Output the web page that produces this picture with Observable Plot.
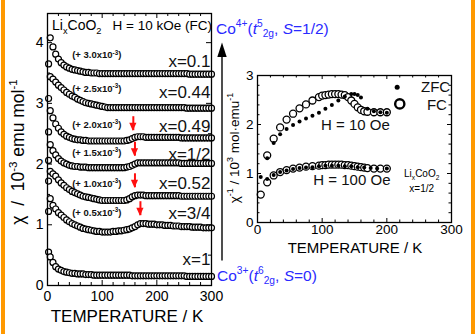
<!DOCTYPE html>
<html><head><meta charset="utf-8">
<script src="https://cdn.jsdelivr.net/npm/d3@7"></script>
<script src="https://cdn.jsdelivr.net/npm/@observablehq/plot@0.6"></script>
<style>
html,body{margin:0;padding:0;background:#fff;}
#wrap{position:relative;width:475px;height:334px;overflow:hidden;background:#fff;}
#wrap svg{position:absolute;left:0;top:0;}
.bar{position:absolute;top:0;height:334px;background:#ff9900;}
</style></head>
<body><div id="wrap"><div class="bar" style="left:1px;width:4px"></div><div class="bar" style="left:471px;width:4px"></div></div>
<script>
// ---------- DATA ----------
const temps = [2,5,10,15,20,25,30,35,40,45,50,55,60,65,70,75,80,85,90,95,100,105,110,115,120,125,130,135,140,145,150,155,160,165,170,175,180,185,190,195,200,205,210,215,220,225,230,235,240,245,250,255,260,265,270,275,280,285,290,295,300];
const xLabels = ["x=0.1","x=0.44","x=0.49","x=1/2","x=0.52","x=3/4","x=1"];
const offsets = [3.0,2.5,2.0,1.5,1.0,0.5,0];
const offsetText = ["3.0","2.5","2.0","1.5","1.0","0.5"];
const chi_x01 = [0.65,1.08,0.93,0.81,0.73,0.67,0.63,0.60,0.58,0.56, 0.55,0.54,0.53,0.52,0.51,0.51,0.50,0.50,0.50,0.49, 0.49,0.49,0.49,0.49,0.49,0.49,0.49,0.49,0.49,0.49, 0.49,0.49,0.49,0.49,0.49,0.49,0.49,0.49,0.49,0.49, 0.49,0.49,0.49,0.49,0.49,0.49,0.49,0.49,0.49,0.49, 0.49,0.49,0.48,0.48,0.48,0.48,0.48,0.48,0.48,0.48, 0.48];
const chi_x044 = [0.58,0.94,0.90,0.85,0.80,0.76,0.72,0.68,0.65,0.62, 0.60,0.57,0.55,0.53,0.51,0.50,0.49,0.48,0.47,0.46, 0.45,0.44,0.43,0.43,0.43,0.43,0.43,0.43,0.43,0.43, 0.43,0.43,0.43,0.43,0.43,0.43,0.43,0.43,0.43,0.43, 0.43,0.43,0.43,0.43,0.43,0.43,0.43,0.43,0.43,0.43, 0.43,0.42,0.42,0.42,0.42,0.42,0.42,0.42,0.42,0.42, 0.42];
const chi_x049 = [0.53,0.88,0.76,0.66,0.59,0.53,0.49,0.46,0.44,0.42, 0.41,0.40,0.40,0.39,0.39,0.38,0.38,0.38,0.38,0.38, 0.38,0.38,0.38,0.38,0.38,0.38,0.38,0.38,0.38,0.39, 0.40,0.42,0.44,0.45,0.45,0.45,0.44,0.44,0.44,0.44, 0.44,0.44,0.44,0.44,0.44,0.44,0.44,0.44,0.44,0.43, 0.43,0.43,0.43,0.43,0.43,0.43,0.43,0.43,0.43,0.43, 0.43];
const chi_x050 = [0.56,0.82,0.72,0.65,0.59,0.55,0.52,0.50,0.48,0.47, 0.46,0.46,0.45,0.45,0.45,0.44,0.44,0.44,0.44,0.44, 0.44,0.44,0.44,0.44,0.44,0.44,0.44,0.44,0.44,0.45, 0.46,0.48,0.50,0.52,0.52,0.52,0.52,0.52,0.52,0.52, 0.52,0.52,0.52,0.52,0.52,0.52,0.52,0.52,0.52,0.51, 0.51,0.51,0.51,0.51,0.51,0.51,0.51,0.51,0.51,0.51, 0.51];
const chi_x052 = [0.72,0.88,0.84,0.80,0.74,0.69,0.65,0.61,0.58,0.55, 0.53,0.51,0.49,0.47,0.46,0.45,0.44,0.43,0.42,0.41, 0.40,0.40,0.40,0.40,0.40,0.40,0.40,0.40,0.40,0.41, 0.43,0.46,0.48,0.49,0.49,0.49,0.48,0.48,0.48,0.48, 0.48,0.48,0.48,0.48,0.48,0.48,0.48,0.48,0.48,0.47, 0.47,0.47,0.47,0.47,0.47,0.47,0.47,0.47,0.47,0.47, 0.47];
const chi_x075 = [0.72,0.93,0.82,0.76,0.70,0.66,0.62,0.58,0.55,0.52, 0.50,0.48,0.46,0.44,0.43,0.42,0.41,0.40,0.39,0.39, 0.38,0.38,0.38,0.38,0.39,0.39,0.40,0.40,0.41,0.42, 0.43,0.45,0.47,0.50,0.52,0.52,0.52,0.51,0.51,0.51, 0.50,0.50,0.50,0.49,0.49,0.49,0.48,0.48,0.48,0.47, 0.47,0.47,0.47,0.46,0.46,0.46,0.46,0.45,0.45,0.45, 0.45];
const chi_x1 = [0.55,0.47,0.38,0.31,0.27,0.25,0.23,0.22,0.21,0.20, 0.20,0.19,0.19,0.19,0.18,0.18,0.18,0.17,0.17,0.17, 0.17,0.17,0.17,0.17,0.17,0.17,0.17,0.17,0.17,0.17, 0.17,0.16,0.16,0.16,0.16,0.16,0.16,0.16,0.16,0.16, 0.16,0.16,0.16,0.16,0.16,0.16,0.16,0.16,0.16,0.16, 0.16,0.15,0.15,0.15,0.15,0.15,0.15,0.15,0.15,0.15, 0.15];
const chiSeries = [chi_x01, chi_x044, chi_x049, chi_x050, chi_x052, chi_x075, chi_x1];
// transition arrows (red): temperature, curve index
const arrowT = [157, 160, 160, 170];
const arrowCurve = [2, 3, 4, 5];

// inset: x = 1/2, inverse susceptibility (10^3 mol emu^-1)
const fcT_H10  = [15,25,35,45,55,65,75,85,95,100,105,110,115,120,125,130,135,140,145,150,155,160,165,170,180,190,200];
const fc_H10   = [1.37,1.71,1.94,2.10,2.22,2.33,2.41,2.49,2.56,2.59,2.60,2.61,2.62,2.62,2.62,2.61,2.60,2.56,2.49,2.42,2.35,2.30,2.27,2.26,2.25,2.25,2.25];
const zfcT_H10 = [15,25,35,45,55,65,75,85,95,105,115,125,135,145,150,155,160,170,180,190,200];
const zfc_H10  = [1.31,1.62,1.80,1.91,1.99,2.06,2.12,2.18,2.24,2.32,2.40,2.49,2.57,2.62,2.62,2.60,2.55,2.32,2.27,2.25,2.24];
const fcT_H100 = [5,15,25,35,45,55,65,75,85,95,100,105,110,115,120,125,130,135,140,145,150,155,160,165,170,180,190,200];
const fc_H100  = [0.57,0.82,0.96,1.03,1.07,1.10,1.12,1.14,1.15,1.16,1.17,1.17,1.18,1.18,1.18,1.18,1.18,1.17,1.17,1.16,1.15,1.14,1.13,1.12,1.11,1.10,1.10,1.10];
const zfcT_H100= [5,15,25,35,45,55,65,75,85,95,105,115,125,135,145,155,165,175,185,200];
const zfc_H100 = [0.93,0.89,0.97,1.03,1.06,1.09,1.11,1.12,1.13,1.15,1.16,1.16,1.16,1.15,1.15,1.13,1.12,1.11,1.10,1.10];

// ---------- LAYOUT ----------
const FONT = "'Liberation Sans', Arial, Helvetica, sans-serif";
const W = 475, H = 334;
const mainM = {left:47, right:264, top:13, bottom:49};
const insM  = {left:257, right:24, top:75, bottom:112};
const labelY = [3.69, 3.17, 2.62, 2.15, 1.68, 1.18, 0.42];     // label rows (data units)
const offLabelY = [3.79, 3.24, 2.65, 2.19, 1.68, 1.19];

function boxTicks(xs, ys, m, len, sw) {
  const fw = W - m.left - m.right, fh = H - m.top - m.bottom;
  const o = {stroke: "black", strokeWidth: sw};
  return [
    Plot.ruleX(xs, {x: d => d, insetTop: fh - len, ...o}),
    Plot.ruleX(xs, {x: d => d, insetBottom: fh - len, ...o}),
    Plot.ruleY(ys, {y: d => d, insetRight: fw - len, ...o}),
    Plot.ruleY(ys, {y: d => d, insetLeft: fw - len, ...o})
  ];
}
function rich(svg, x, y, parts, o) {
  const size = o.size;
  const t = d3.select(svg).append("text")
    .attr("transform", `translate(${x},${y})` + (o.rotate ? ` rotate(${o.rotate})` : ""))
    .attr("font-size", size).attr("fill", o.fill || "black")
    .attr("text-anchor", o.anchor || "start")
    .attr("font-weight", o.weight || "normal")
    .attr("font-family", FONT);
  let cur = 0;
  for (const [s, k] of parts) {
    const ts = t.append("tspan").text(s);
    let target = 0;
    if (k === "sup") { target = -0.4 * size; ts.attr("font-size", 0.66 * size); }
    else if (k === "sub") { target = 0.25 * size; ts.attr("font-size", 0.66 * size); }
    else if (k === "i") ts.attr("font-style", "italic");
    if (target !== cur) { ts.attr("dy", target - cur); cur = target; }
  }
  return t;
}
const svgStyle = `font-family:${FONT};font-size:14px;background:transparent;overflow:visible;color:black;`;
const intFmt = d => String(d);

// ---------- MAIN CHART ----------
const rows = [];
chiSeries.forEach((arr, i) => arr.forEach((v, j) => rows.push({t: temps[j], v: v + offsets[i], k: i})));
const arrows = arrowT.map((t, i) => {
  const c = arrowCurve[i];
  const j = temps.indexOf(Math.round(t / 5) * 5);
  const base = chiSeries[c][j] + offsets[c];
  return {t, top: base + 0.36, tip: base + 0.13};
});
const labels = xLabels.map((label, i) => ({label, y: labelY[i]}));

const main = Plot.plot({
  width: W, height: H,
  marginLeft: mainM.left, marginRight: mainM.right, marginTop: mainM.top, marginBottom: mainM.bottom,
  style: svgStyle,
  x: {domain: [0, 300], ticks: [0, 100, 200, 300], tickFormat: intFmt, tickSize: 0, tickPadding: 6, label: null},
  y: {domain: [0, 4.48], ticks: [0, 1, 2, 3, 4], tickFormat: intFmt, tickSize: 0, tickPadding: 4, label: null},
  marks: [
    ...boxTicks([100, 200], [1, 2, 3, 4], mainM, 5, 1),
    ...boxTicks([20,40,60,80,120,140,160,180,220,240,260,280], [0.5,1.5,2.5,3.5], mainM, 3, 1),
    Plot.dot(rows, {x: "t", y: "v", r: 3, stroke: "black", strokeWidth: 1.2, fill: "white"}),
    Plot.ruleX(arrows, {x: "t", y1: "top", y2: "tip", stroke: "#ff1010", strokeWidth: 2}),
    Plot.text(labels, {y: "y", frameAnchor: "right", text: "label", textAnchor: "end", dx: -1, fontSize: 17, fill: "#111"}),
    Plot.frame({stroke: "black", strokeWidth: 1.3})
  ]
});
document.getElementById("wrap").appendChild(main);
{
  const sx = main.scale("x"), sy = main.scale("y");
  const g = d3.select(main);
  for (const a of arrows) {
    const x = sx.apply(a.t), yb = sy.apply(a.tip);
    g.append("path").attr("d", `M${x-3.6},${yb-7.5}L${x+3.6},${yb-7.5}L${x},${yb+0.5}Z`).attr("fill", "#ff1010");
  }
  offsetText.forEach((s, i) => {
    rich(main, sx.apply(46), sy.apply(offLabelY[i]) + 3.5,
      [["(+ " + s + "x10", ""], ["-3", "sup"], [")", ""]], {size: 9.5, weight: "bold", fill: "#111"});
  });
  rich(main, 52, 30, [["Li", ""], ["x", "sub"], ["CoO", ""], ["2", "sub"]], {size: 14});
  rich(main, 112.5, 30, [["H = 10 kOe (FC)", ""]], {size: 13.5});
  rich(main, 23.5, 152, [["\u03c7", ""], ["\u00a0\u00a0/\u00a0\u00a010", ""], ["-3", "sup"], [" emu mol", ""], ["-1", "sup"]], {size: 17.5, anchor: "middle", rotate: -90});
  rich(main, 127, 321.5, [["TEMPERATURE / K", ""]], {size: 17, anchor: "middle"});
  // Co valence annotation and arrow
  const blue = "#2a2aff";
  rich(main, 216, 33.5, [["Co", ""], ["4+", "sup"], ["(", ""], ["t", "i"], ["5", "sup"], ["2g", "sub"], [", ", ""], ["S", "i"], ["=1/2)", ""]], {size: 15.5, fill: blue});
  rich(main, 217, 280.5, [["Co", ""], ["3+", "sup"], ["(", ""], ["t", "i"], ["6", "sup"], ["2g", "sub"], [", ", ""], ["S", "i"], ["=0)", ""]], {size: 15.5, fill: blue});
  g.append("line").attr("x1", 222).attr("x2", 222).attr("y1", 260.5).attr("y2", 54).attr("stroke", "#222").attr("stroke-width", 1.6);
  g.append("path").attr("d", "M222,42.5L217.3,57L226.7,57Z").attr("fill", "black");
}

// ---------- INSET ----------
const fc10 = fcT_H10.map((t, i) => ({t, v: fc_H10[i]}));
const zfc10 = zfcT_H10.map((t, i) => ({t, v: zfc_H10[i]}));
const fc100 = fcT_H100.map((t, i) => ({t, v: fc_H100[i]}));
const zfc100 = zfcT_H100.map((t, i) => ({t, v: zfc_H100[i]}));

const inset = Plot.plot({
  width: W, height: H,
  marginLeft: insM.left, marginRight: insM.right, marginTop: insM.top, marginBottom: insM.bottom,
  style: svgStyle + "font-size:13.5px;",
  x: {domain: [0, 300], ticks: [0, 100, 200, 300], tickFormat: intFmt, tickSize: 0, tickPadding: 2, label: null},
  y: {domain: [0, 3], ticks: [0, 1, 2, 3], tickFormat: intFmt, tickSize: 0, tickPadding: 4, label: null},
  marks: [
    ...boxTicks([100, 200], [1, 2], insM, 4, 1),
    ...boxTicks([20,40,60,80,120,140,160,180,220,240,260,280], [0.2,0.4,0.6,0.8,1.2,1.4,1.6,1.8,2.2,2.4,2.6,2.8], insM, 2.5, 1),
    Plot.dot(fc100, {x: "t", y: "v", r: 3.5, stroke: "black", strokeWidth: 1.3, fill: "white"}),
    Plot.dot(fc10, {x: "t", y: "v", r: 3.5, stroke: "black", strokeWidth: 1.3, fill: "white"}),
    Plot.dot(zfc100, {x: "t", y: "v", r: 2, fill: "black"}),
    Plot.dot(zfc10, {x: "t", y: "v", r: 2, fill: "black"}),
    Plot.text(["H = 10 Oe"], {x: 151.5, y: 1.98, text: d => d, fontSize: 15, fill: "#111"}),
    Plot.text(["H = 100 Oe"], {x: 146, y: 0.86, text: d => d, fontSize: 15, fill: "#111"}),
    Plot.dot([0], {x: 216, y: 2.76, r: 2.5, fill: "black"}),
    Plot.dot([0], {x: 220, y: 2.42, r: 4.6, stroke: "black", strokeWidth: 2.4, fill: "none"}),
    Plot.text(["ZFC"], {x: 252.8, y: 2.76, text: d => d, textAnchor: "start", fontSize: 15, fill: "#111"}),
    Plot.text(["FC"], {x: 262, y: 2.39, text: d => d, textAnchor: "start", fontSize: 15, fill: "#111"}),
    Plot.frame({stroke: "black", strokeWidth: 1.3})
  ]
});
document.getElementById("wrap").appendChild(inset);
{
  rich(inset, 421.7, 177, [["Li", ""], ["x", "sub"], ["CoO", ""], ["2", "sub"]], {size: 10, anchor: "middle"});
  rich(inset, 421.7, 191.5, [["x=1/2", ""]], {size: 10, anchor: "middle"});
  rich(inset, 238.5, 148, [["\u03c7", ""], ["-1", "sup"], [" / 10", ""], ["3", "sup"], [" mol\u00b7emu", ""], ["-1", "sup"]], {size: 13.5, anchor: "middle", rotate: -90});
  rich(inset, 355, 253, [["TEMPERATURE / K", ""]], {size: 15, anchor: "middle"});
}
</script></body></html>
